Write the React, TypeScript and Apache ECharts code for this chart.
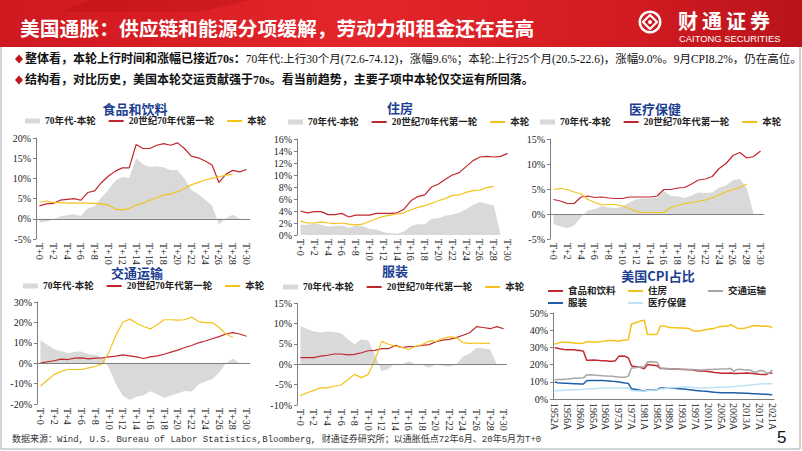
import React, { useEffect, useRef } from 'react';
import * as echarts from 'echarts';

const T_LABELS = ['T+0','T+1','T+2','T+3','T+4','T+5','T+6','T+7','T+8','T+9','T+10','T+11','T+12','T+13','T+14','T+15','T+16','T+17','T+18','T+19','T+20','T+21','T+22','T+23','T+24','T+25','T+26','T+27','T+28','T+29','T+30'];

const FOOD_70S = [3.2,3.7,3.8,4.6,4.8,5.0,4.6,6.5,6.9,9.0,10.6,11.8,12.6,12.6,18.4,17.4,17.4,18.2,18.6,18.2,18.8,17.4,15.5,15.1,14.3,13.3,9.0,11.0,12.0,11.6,12.2];
const FOOD_NOW = [4.1,4.4,4.0,4.0,3.9,3.9,3.9,3.9,3.8,3.7,3.4,2.4,2.2,2.5,3.4,3.9,4.6,5.2,5.9,6.1,6.7,7.5,8.4,9.0,9.6,10.0,10.4,10.8,11.0];
const FOOD_GAP = [-0.9,-0.7,-0.2,0.6,0.9,1.1,0.7,2.6,3.1,5.3,7.2,9.4,10.4,10.1,15.0,13.5,12.8,13.0,12.7,12.1,12.1,9.9,7.1,6.1,4.7,3.3,-1.4,0.2,1.0,0];

const HOUSING_70S = [4.0,3.7,3.9,3.9,3.4,3.4,3.6,3.0,3.3,3.3,3.3,3.6,3.6,3.6,3.7,4.3,5.7,6.4,6.7,8.0,8.5,9.3,10.0,10.4,11.4,12.4,13.0,13.1,13.0,13.1,13.6];
const HOUSING_NOW = [2.3,2.0,2.0,2.2,2.0,1.9,2.0,1.8,1.7,1.8,2.3,2.7,3.1,3.3,3.5,3.7,4.2,4.6,4.9,5.3,5.7,6.1,6.6,6.7,7.1,7.4,7.5,7.9,8.1];
const HOUSING_GAP = [1.7,1.7,1.9,1.7,1.4,1.5,1.6,1.2,1.6,1.5,1.0,0.9,0.5,0.3,0.2,0.6,1.5,1.8,1.8,2.7,2.8,3.2,3.4,3.7,4.3,5.0,5.5,5.2,4.9,0];

const MED_70S = [2.9,2.6,2.1,2.1,3.4,3.6,3.3,3.4,3.2,3.1,3.1,3.4,3.4,3.4,3.4,3.6,4.9,4.9,5.2,5.3,6.0,6.8,7.0,7.5,9.1,10.1,11.7,12.3,11.2,11.5,12.6];
const MED_NOW = [4.9,5.1,4.9,4.4,4.0,2.9,2.3,1.8,1.9,1.9,1.6,1.1,0.5,0.3,0.3,0.3,0.3,1.3,1.7,2.1,2.3,2.5,2.8,3.2,3.8,4.4,4.9,5.3,6.0];
const MED_GAP = [-2.0,-2.5,-2.8,-2.3,-0.6,0.7,1.0,1.6,1.3,1.2,1.5,2.3,2.9,3.1,3.1,3.3,4.6,3.6,3.5,3.2,3.7,4.3,4.2,4.3,5.3,5.7,6.8,7.0,5.2,0];

const TRANS_70S = [0,0.7,1.2,2.0,1.8,2.5,2.6,2.1,2.5,2.6,3.1,3.5,4.1,3.6,3.1,2.3,3.1,3.6,4.4,5.4,6.4,7.7,8.7,10.0,10.9,12.0,13.0,14.3,15.0,14.3,13.2];
const TRANS_NOW = [-11.2,-8.4,-5.6,-4.0,-3.1,-3.1,-3.1,-2.3,-1.5,-0.2,5.6,13.8,20.1,21.6,19.6,18.0,16.8,18.8,21.3,21.3,21.1,21.3,22.6,20.4,19.9,19.9,17.5,14.3,12.7];
const TRANS_GAP = [11.2,9.1,6.8,6.0,4.9,5.6,5.7,4.4,4.0,2.8,-2.5,-10.3,-16.0,-18.0,-16.5,-15.7,-13.7,-15.2,-16.9,-15.9,-14.7,-13.6,-13.9,-10.4,-9.0,-7.9,-4.5,0,2.3,0];

const APP_70S = [1.6,1.6,1.6,2.0,2.2,2.5,2.5,2.3,2.4,2.8,3.3,3.4,3.8,3.8,4.6,4.1,4.3,4.4,4.6,4.8,5.5,5.9,6.1,6.5,7.1,7.7,9.2,9.0,8.7,9.2,8.7];
const APP_NOW = [-7.7,-7.0,-6.4,-5.8,-5.8,-5.4,-5.1,-3.8,-2.5,-3.3,-2.5,1.0,5.6,4.9,4.4,4.1,3.6,4.4,4.8,5.7,5.6,6.3,6.7,6.5,5.3,5.1,5.2,5.1,5.1];
const APP_GAP = [9.3,8.6,8.0,7.8,8.0,7.9,7.6,6.1,4.9,6.1,5.8,2.4,-1.8,-1.1,0.2,0,0.7,0,-0.2,-0.9,-0.1,-0.4,-0.6,0,1.8,2.6,4.0,3.9,3.6,0];

const YEARS = ['1952A','1953A','1954A','1955A','1956A','1957A','1958A','1959A','1960A','1961A',
  '1963A','1964A','1965A','1966A','1967A','1968A','1969A','1970A','1971A','1972A','1973A','1974A','1975A','1976A',
  '1977A','1978A','1979A','1980A','1981A','1982A','1983A','1984A','1985A',
  '1986A','1987A','1988A','1989A','1990A','1991A','1992A','1993A','1994A','1995A','1996A','1997A','1998A','1999A','2000A',
  '2001A','2002A','2003A','2004A','2005A','2006A','2007A','2008A','2009A','2010A','2011A','2012A','2013A','2014A','2015A',
  '2016A','2017A','2018A','2019A','2020A','2021A'];

const CPI_FOOD = [29.8,29.5,29.0,28.8,28.7,28.6,28.6,28.4,28.2,27.8,
  22.5,22.6,22.7,22.6,22.4,22.3,22.2,22.0,22.0,22.3,24.8,25.0,24.8,24.0,
  19.3,18.9,18.6,18.3,17.6,20.0,19.8,19.6,19.4,
  17.7,17.7,17.6,17.5,17.4,17.4,17.3,17.2,17.1,17.0,17.0,16.5,16.3,16.3,16.2,16.0,15.7,15.4,15.2,15.0,15.0,15.0,15.1,14.8,14.8,14.9,15.0,15.1,15.0,14.8,14.6,14.4,14.3,14.2,15.2,15.0];
const CPI_HOUSING = [31.8,32.5,33.0,33.0,33.0,32.8,32.6,32.4,32.3,32.5,
  33.3,33.3,33.2,33.2,33.3,33.5,33.8,34.0,34.0,33.8,33.6,34.0,34.3,34.5,
  43.6,44.2,44.8,45.5,45.8,37.5,37.5,37.5,37.6,
  42.5,42.5,42.0,41.6,41.4,41.4,41.3,41.3,41.2,41.0,39.8,39.6,39.6,39.8,40.2,40.5,40.9,41.2,41.8,42.1,42.3,42.4,43.2,42.2,41.2,41.0,41.0,41.5,42.0,42.6,42.6,42.5,42.3,42.4,42.2,41.5];
const CPI_TRANS = [11.2,11.3,11.4,11.5,11.6,11.8,12.0,12.1,12.2,12.3,
  14.0,14.1,14.0,13.8,13.7,13.5,13.4,13.3,13.2,13.0,12.8,12.7,12.8,13.3,
  18.0,18.2,18.4,18.6,18.8,21.5,21.6,21.5,21.3,
  18.0,17.8,17.7,17.6,17.5,17.4,17.3,17.3,17.2,17.2,17.1,17.0,16.9,16.9,17.0,17.1,17.2,17.3,17.3,17.4,17.5,17.6,17.8,16.0,17.2,17.3,17.0,16.8,16.9,15.8,15.6,16.4,16.5,15.3,15.0,17.0];
const CPI_APPAREL = [9.9,9.5,9.3,9.2,9.1,9.0,8.9,8.8,8.7,8.7,
  10.6,10.7,10.7,10.7,10.7,10.7,10.6,10.5,10.3,10.2,9.9,9.6,9.3,9.1,
  6.0,5.7,5.4,5.0,4.6,5.2,5.3,5.3,5.4,
  6.4,6.4,6.3,6.3,6.2,6.1,6.0,5.8,5.6,5.4,5.2,5.0,4.8,4.6,4.5,4.3,4.1,3.9,3.8,3.7,3.7,3.6,3.6,3.6,3.5,3.5,3.4,3.3,3.2,3.1,3.0,2.9,2.8,2.7,2.6,2.4];
const CPI_MEDICAL = [4.8,4.9,5.0,5.1,5.2,5.3,5.4,5.4,5.5,5.6,
  5.8,5.9,6.0,6.1,6.2,6.3,6.4,6.4,6.4,6.4,6.4,6.4,6.5,6.5,
  4.9,4.8,4.7,4.6,4.5,5.0,5.1,5.2,5.4,
  5.8,6.0,6.2,6.4,6.5,6.7,6.9,7.0,7.1,7.0,6.8,6.6,6.5,6.4,6.4,6.5,6.6,6.7,6.8,6.8,6.9,7.0,7.1,7.3,7.4,7.6,7.7,7.9,8.1,8.3,8.5,8.7,8.8,8.9,9.0,8.8];

const SERIF = '"Liberation Serif","Noto Sans CJK SC",serif';
const CJK = '"Noto Sans CJK SC",sans-serif';
const RED = '#c0272d';
const YELLOW = '#f4c21b';
const GREY = '#d9d9d9';
const AXIS = '#7f7f7f';
const TITLE_BLUE = '#1c3f92';

const N_GAP = '70年代-本轮';
const N_OLD = '20世纪70年代第一轮';
const N_NOW = '本轮';

type Panel = {
  title: string; gap: number[]; old: number[]; now: number[];
  min: number; max: number; interval: number;
  grid: { left: number; top: number; width: number; height: number };
  titleAt: [number, number]; legendAt: [number, number]; zero: boolean;
};

const PANELS: Panel[] = [
  { title: '食品和饮料', gap: FOOD_GAP, old: FOOD_70S, now: FOOD_NOW, min: -5, max: 20, interval: 5,
    grid: { left: 36, top: 138, width: 214, height: 101 }, titleAt: [135, 108], legendAt: [25, 121], zero: true },
  { title: '住房', gap: HOUSING_GAP, old: HOUSING_70S, now: HOUSING_NOW, min: 0, max: 16, interval: 2,
    grid: { left: 297, top: 139, width: 214, height: 96 }, titleAt: [400, 107], legendAt: [288, 122], zero: false },
  { title: '医疗保健', gap: MED_GAP, old: MED_70S, now: MED_NOW, min: -5, max: 15, interval: 5,
    grid: { left: 550, top: 139, width: 214, height: 100 }, titleAt: [655, 108], legendAt: [540, 122], zero: true },
  { title: '交通运输', gap: TRANS_GAP, old: TRANS_70S, now: TRANS_NOW, min: -20, max: 30, interval: 10,
    grid: { left: 37, top: 302, width: 213, height: 102 }, titleAt: [137, 272], legendAt: [23, 286], zero: true },
  { title: '服装', gap: APP_GAP, old: APP_70S, now: APP_NOW, min: -10, max: 15, interval: 5,
    grid: { left: 297, top: 303, width: 210, height: 102 }, titleAt: [395, 270], legendAt: [283, 287], zero: true },
];

const CPI_SERIES = [
  { name: '食品和饮料', data: CPI_FOOD, color: '#c3282f', at: [547, 291] },
  { name: '住房', data: CPI_HOUSING, color: '#f4c21b', at: [627, 291] },
  { name: '交通运输', data: CPI_TRANS, color: '#a6a6a6', at: [707, 291] },
  { name: '服装', data: CPI_APPAREL, color: '#1f5fa8', at: [547, 303] },
  { name: '医疗保健', data: CPI_MEDICAL, color: '#bfe3f6', at: [627, 303] },
];

const LOGO_CHARS = ['财', '通', '证', '券'];

const legendText = { fontSize: 9.5, fontFamily: SERIF, fontWeight: 'bold' as const, color: '#222', lineHeight: 10 };

function buildOption() {
  const grid: any[] = [];
  const xAxis: any[] = [];
  const yAxis: any[] = [];
  const series: any[] = [];
  const legend: any[] = [];
  const graphic: any[] = [];

  PANELS.forEach((p, i) => {
    grid.push({ ...p.grid, containLabel: false });
    xAxis.push({
      type: 'category', gridIndex: i, data: T_LABELS, boundaryGap: true,
      axisLine: { show: false }, axisTick: { show: false }, splitLine: { show: false },
      axisLabel: { rotate: -90, interval: 1, fontSize: 10, fontFamily: SERIF, color: '#222', margin: 4 },
    });
    yAxis.push({
      type: 'value', gridIndex: i, min: p.min, max: p.max, interval: p.interval,
      axisLine: { show: true, lineStyle: { color: AXIS } },
      axisTick: { show: true, length: 3, lineStyle: { color: AXIS } },
      splitLine: { show: false },
      axisLabel: { formatter: '{value}%', fontSize: 10, fontFamily: SERIF, color: '#222', margin: 5 },
    });
    series.push({
      type: 'line', name: N_GAP, xAxisIndex: i, yAxisIndex: i, data: p.gap, symbol: 'none', silent: true,
      lineStyle: { width: 0 }, itemStyle: { color: GREY }, areaStyle: { color: GREY, opacity: 1 },
      markLine: p.zero ? {
        silent: true, symbol: ['none', 'none'], label: { show: false },
        lineStyle: { color: AXIS, width: 1, type: 'solid' }, data: [{ yAxis: 0 }],
      } : undefined,
    });
    series.push({
      type: 'line', name: N_OLD, xAxisIndex: i, yAxisIndex: i, data: p.old, symbol: 'none',
      lineStyle: { width: 1.2, color: RED }, itemStyle: { color: RED },
    });
    series.push({
      type: 'line', name: N_NOW, xAxisIndex: i, yAxisIndex: i, data: p.now, symbol: 'none',
      lineStyle: { width: 1.2, color: YELLOW }, itemStyle: { color: YELLOW },
    });
    legend.push({
      left: p.legendAt[0], top: p.legendAt[1] - 5, padding: 0, itemGap: 12, itemWidth: 15, itemHeight: 5,
      selectedMode: false, textStyle: legendText,
      data: [
        { name: N_GAP, icon: 'rect' },
        { name: N_OLD, itemStyle: { opacity: 0 } },
        { name: N_NOW, itemStyle: { opacity: 0 } },
      ],
    });
    graphic.push({
      type: 'text', x: p.titleAt[0], y: p.titleAt[1],
      style: { text: p.title, fill: TITLE_BLUE, font: `bold 13px ${CJK}`, align: 'center', verticalAlign: 'middle', textAlign: 'center', textVerticalAlign: 'middle' },
    });
  });

  // CPI share panel
  const ci = PANELS.length;
  grid.push({ left: 553, top: 313, width: 221, height: 86 });
  xAxis.push({
    type: 'category', gridIndex: ci, data: YEARS, boundaryGap: true,
    axisLine: { show: true, lineStyle: { color: AXIS } }, axisTick: { show: false }, splitLine: { show: false },
    axisLabel: { rotate: -90, interval: 3, fontSize: 10, fontFamily: SERIF, color: '#222', margin: 4 },
  });
  yAxis.push({
    type: 'value', gridIndex: ci, min: 0, max: 50, interval: 10,
    axisLine: { show: true, lineStyle: { color: AXIS } },
    axisTick: { show: true, length: 3, lineStyle: { color: AXIS } },
    splitLine: { show: false },
    axisLabel: { formatter: '{value}%', fontSize: 10, fontFamily: SERIF, color: '#222', margin: 5 },
  });
  CPI_SERIES.forEach((s) => {
    series.push({
      type: 'line', name: s.name, xAxisIndex: ci, yAxisIndex: ci, data: s.data, symbol: 'none',
      lineStyle: { width: 1.5, color: s.color }, itemStyle: { color: s.color },
    });
    legend.push({
      left: s.at[0], top: s.at[1] - 5, padding: 0, itemWidth: 15, itemHeight: 5, selectedMode: false,
      textStyle: legendText, data: [{ name: s.name, itemStyle: { opacity: 0 } }],
    });
  });
  graphic.push({
    type: 'text', x: 658, y: 275,
    style: { text: '美国CPI占比', fill: TITLE_BLUE, font: `bold 13px ${CJK}`, align: 'center', verticalAlign: 'middle', textAlign: 'center', textVerticalAlign: 'middle' },
  });

  // slide frame and header
  graphic.push(
    { type: 'rect', z: -10, shape: { x: 1, y: 46, width: 799, height: 403 }, style: { fill: 'none', stroke: '#a6a6a6', lineWidth: 1 } },
    {
      type: 'rect', z: -5, shape: { x: 0, y: 0, width: 802, height: 47 },
      style: {
        fill: new echarts.graphic.LinearGradient(0, 0, 1, 0, [
          { offset: 0, color: '#cf1820' }, { offset: 0.45, color: '#e3262b' }, { offset: 0.8, color: '#d11a21' }, { offset: 1, color: '#b8141a' },
        ]),
      },
    },
    { type: 'polygon', z: -4, shape: { points: [[90, 0], [250, 0], [200, 12], [60, 12]] }, style: { fill: 'rgba(150,0,0,0.18)' } },
    {
      type: 'text', x: 20, y: 27,
      style: { text: '美国通胀：供应链和能源分项缓解，劳动力和租金还在走高', fill: '#fff', font: `bold 19.8px ${CJK}`, verticalAlign: 'middle', textVerticalAlign: 'middle' },
    },
    { type: 'ring', shape: { cx: 650, cy: 22, r: 11.5, r0: 9 }, style: { fill: '#fff' } },
    { type: 'polygon', shape: { points: [[650, 15], [657, 22], [650, 29], [643, 22]] }, style: { fill: 'none', stroke: '#fff', lineWidth: 2.2 } },
    { type: 'circle', shape: { cx: 650, cy: 22, r: 2 }, style: { fill: '#fff' } },
    ...LOGO_CHARS.map((ch, k) => ({
      type: 'text', x: 678 + k * 24, y: 20,
      style: { text: ch, fill: '#fff', font: `bold 20px ${CJK}`, verticalAlign: 'middle', textVerticalAlign: 'middle' },
    })),
    {
      type: 'text', x: 679, y: 38,
      style: { text: 'CAITONG SECURITIES', fill: '#fff', font: `9.4px "Liberation Sans",Arial,sans-serif`, verticalAlign: 'middle', textVerticalAlign: 'middle' },
    },
    { type: 'polygon', shape: { points: [[19, 54.5], [23, 59], [19, 63.5], [15, 59]] }, style: { fill: '#c0151b' } },
    { type: 'polygon', shape: { points: [[19, 75.5], [23, 80], [19, 84.5], [15, 80]] }, style: { fill: '#c0151b' } },
    {
      type: 'text', x: 25, y: 59,
      style: {
        text: '{b|整体看，本轮上行时间和涨幅已接近70s：}{n|70年代:上行30个月(72.6-74.12)，涨幅9.6%；本轮:上行25个月(20.5-22.6)，涨幅9.0%。9月CPI8.2%，仍在高位。}',
        verticalAlign: 'middle', textVerticalAlign: 'middle',
        rich: {
          b: { fontSize: 12, fontFamily: SERIF, fontWeight: 'bold', fill: '#111' },
          n: { fontSize: 11.5, fontFamily: SERIF, fontWeight: 'normal', fill: '#111' },
        },
      },
    },
    {
      type: 'text', x: 25, y: 80,
      style: { text: '结构看，对比历史，美国本轮交运贡献强于70s。看当前趋势，主要子项中本轮仅交运有所回落。', fill: '#111', font: `bold 12px ${SERIF}`, verticalAlign: 'middle', textVerticalAlign: 'middle' },
    },
    {
      type: 'text', x: 12, y: 440,
      style: { text: '数据来源：Wind, U.S. Bureau of Labor Statistics,Bloomberg, 财通证券研究所；以通胀低点72年6月、20年5月为T+0', fill: '#333', font: `9px "Liberation Mono","Noto Sans CJK SC",monospace`, verticalAlign: 'middle', textVerticalAlign: 'middle' },
    },
    {
      type: 'text', x: 777, y: 437,
      style: { text: '5', fill: '#111', font: `17px "Liberation Sans",Arial,sans-serif`, verticalAlign: 'middle', textVerticalAlign: 'middle' },
    },
  );

  return { animation: false, backgroundColor: '#fff', grid, xAxis, yAxis, series, legend, graphic };
}

export default function App() {
  const ref = useRef<HTMLDivElement>(null);
  useEffect(() => {
    if (!ref.current) return;
    const chart = echarts.init(ref.current, null, { renderer: 'svg' });
    chart.setOption(buildOption() as any);
    return () => chart.dispose();
  }, []);
  return <div ref={ref} style={{ position: 'fixed', left: 0, top: 0, width: 802, height: 451, background: '#fff' }} />;
}
